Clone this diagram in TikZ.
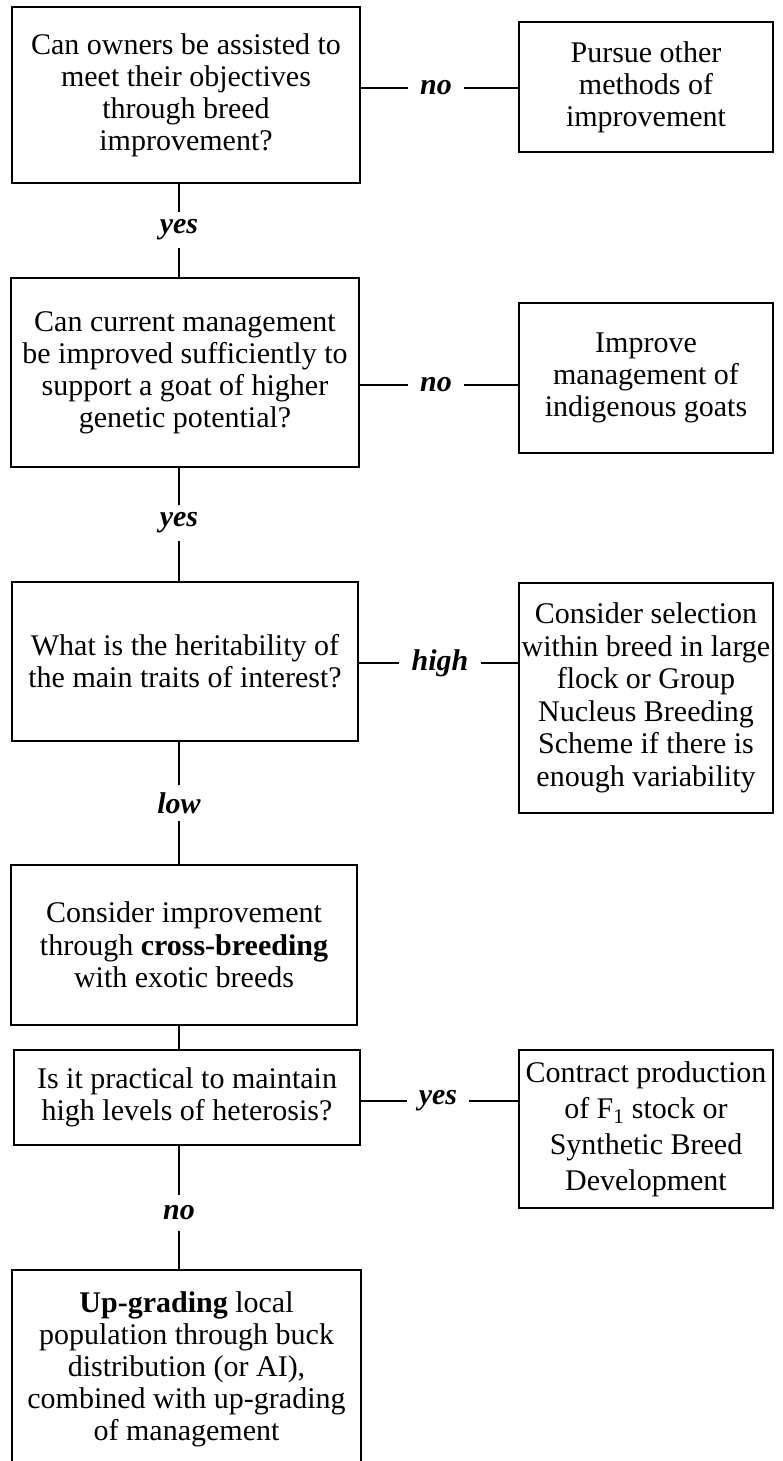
\documentclass[tikz,border=0pt]{standalone}
\usepackage{fontspec}
\setmainfont{Liberation Serif}
\begin{document}
\begin{tikzpicture}[x=1pt,y=-1pt,
  box/.style={draw, line width=2.7pt, align=center, inner sep=0pt,
    font=\fontsize{30}{#1}\selectfont},
  box/.default=31.5,
  conn/.style={line width=2.2pt},
  hlab/.style={inner xsep=12pt, inner ysep=0pt,
    font=\fontsize{30}{31.5}\selectfont\bfseries\itshape},
  vlab/.style={inner sep=0pt, minimum height=36pt,
    font=\fontsize{30}{31.5}\selectfont\bfseries\itshape}
]
\useasboundingbox (0,0) rectangle (783,1461);

% left column
\node[box=32, minimum width=348pt, minimum height=176pt] (b1) at (186,95)
  {Can owners be assisted to\\meet their objectives\\through breed\\improvement?};
\node[box=32, minimum width=348pt, minimum height=189pt] (b2) at (185,372.5)
  {Can current management\\be improved sufficiently to\\support a goat of higher\\genetic potential?};
\node[box=32, minimum width=346pt, minimum height=159pt] (b3) at (185,661.5)
  {What is the heritability of\\the main traits of interest?};
\node[box=32.5, minimum width=346pt, minimum height=160pt] (b4) at (184,945)
  {Consider improvement\\through \textbf{cross-breeding}\\with exotic breeds};
\node[box=32, minimum width=346pt, minimum height=95pt] (b5) at (187,1097.5)
  {Is it practical to maintain\\high levels of heterosis?};
\node[box=32, minimum width=349pt, minimum height=198pt] (b6) at (186.5,1369)
  {\textbf{Up-grading} local\\population through buck\\distribution (or AI),\\combined with up-grading\\of management};

% right column
\node[box=32, minimum width=254pt, minimum height=130pt] (r1) at (646,87)
  {Pursue other\\methods of\\improvement};
\node[box=32, minimum width=254pt, minimum height=150pt] (r2) at (646,378)
  {Improve\\management of\\indigenous goats};
\node[box=32.5, minimum width=254pt, minimum height=230pt] (r3) at (646,698)
  {Consider selection\\within breed in large\\flock or Group\\Nucleus Breeding\\Scheme if there is\\enough variability};
\node[box=36, minimum width=254pt, minimum height=158pt] (r5) at (646,1129)
  {Contract production\\of F\textsubscript{1} stock or\\Synthetic Breed\\Development};

% horizontal labels
\node[hlab] (h1) at (436,88) {no};
\node[hlab] (h2) at (436,385) {no};
\node[hlab] (h3) at (440,663) {high};
\node[hlab] (h5) at (438,1101) {yes};

% vertical labels
\node[vlab] (v1) at (179,230) {yes};
\node[vlab] (v2) at (179,523) {yes};
\node[vlab] (v3) at (179,803) {low};
\node[vlab] (v5) at (179,1213) {no};

% horizontal connectors
\draw[conn] (b1.east |- h1) -- (h1.west);
\draw[conn] (h1.east) -- (r1.west |- h1);
\draw[conn] (b2.east |- h2) -- (h2.west);
\draw[conn] (h2.east) -- (r2.west |- h2);
\draw[conn] (b3.east |- h3) -- (h3.west);
\draw[conn] (h3.east) -- (r3.west |- h3);
\draw[conn] (b5.east |- h5) -- (h5.west);
\draw[conn] (h5.east) -- (r5.west |- h5);

% vertical connectors
\draw[conn] (b1.south -| v1) -- (v1.north);
\draw[conn] (v1.south) -- (b2.north -| v1);
\draw[conn] (b2.south -| v2) -- (v2.north);
\draw[conn] (v2.south) -- (b3.north -| v2);
\draw[conn] (b3.south -| v3) -- (v3.north);
\draw[conn] (v3.south) -- (b4.north -| v3);
\draw[conn] (b4.south -| v3) -- (b5.north -| v3);
\draw[conn] (b5.south -| v5) -- (v5.north);
\draw[conn] (v5.south) -- (b6.north -| v5);
\end{tikzpicture}
\end{document}
